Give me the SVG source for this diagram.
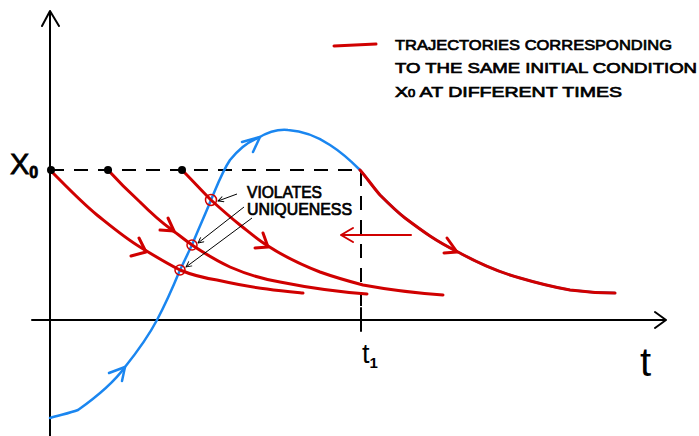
<svg xmlns="http://www.w3.org/2000/svg" width="699" height="436" viewBox="0 0 699 436">
<style>
.axis{stroke:#000;stroke-width:2;fill:none;stroke-linecap:round;stroke-linejoin:round}
.dash{stroke:#000;stroke-width:2;fill:none;stroke-dasharray:14,10}
.red{stroke:#d00000;stroke-width:3;fill:none;stroke-linecap:round;stroke-linejoin:round}
.blue{stroke:#1a86f0;stroke-width:2.5;fill:none;stroke-linecap:round;stroke-linejoin:round}
.ring{stroke:#d00000;stroke-width:1.5;fill:none}
.thin{stroke:#000;stroke-width:1;fill:none}
.hand{font-family:"Liberation Sans",Arial,sans-serif;fill:#000;stroke:#000;stroke-width:0.7}
.math{font-family:"Liberation Sans",Arial,sans-serif;fill:#000}
</style>
<defs>
<marker id="ah" viewBox="0 0 10 10" refX="9" refY="5" markerWidth="7" markerHeight="7" orient="auto-start-reverse" markerUnits="userSpaceOnUse">
<path d="M1,1 L9,5 L1,9" fill="none" stroke="#000" stroke-width="1.3"/>
</marker>
</defs>
<rect width="699" height="436" fill="#fff"/>
<g id="axes">
<path class="axis" d="M50,436 L50,11 M42,26 L50,11 L59,26"/>
<path class="axis" d="M32,320 L666,320 M655,312 L666,320 L655,328"/>
<path class="axis" d="M361,308 L361,331"/>
<path class="dash" d="M50,170 L360,170"/>
<path class="dash" d="M361,172 L361,320"/>
</g>
<g id="labels">
<text class="math" x="10" y="174" font-size="29" stroke="#000" stroke-width="0.8">X<tspan font-size="16" dy="4" font-weight="bold">0</tspan></text>
<text class="math" x="362" y="363" font-size="27">t<tspan font-size="15" dy="5" font-weight="bold">1</tspan></text>
<text class="math" x="640" y="376" font-size="40">t</text>
</g>
<g id="legend">
<path class="red" d="M334,46 L376,44"/>
<text class="hand" x="395" y="50" font-size="15" textLength="277" lengthAdjust="spacingAndGlyphs">TRAJECTORIES CORRESPONDING</text>
<text class="hand" x="395" y="73" font-size="15" textLength="302" lengthAdjust="spacingAndGlyphs">TO THE SAME INITIAL CONDITION</text>
<text class="hand" x="395" y="97" font-size="15" textLength="227" lengthAdjust="spacingAndGlyphs">X<tspan font-size="10">0</tspan> AT DIFFERENT TIMES</text>
</g>
<g id="connectors">
<path id="blue-traj" class="blue" d="M50,418 C60,415 70,413 78,410 C95,398 112,385 125,367 C137,352 148,337 157,320 C166,303 173,287 180,270 C184,262 188,253 192,245 C198,230 205,215 211,200 C217,186 222,172 230,160 C238,150 247,142 258,138 C268,132 278,129 288,130 C303,131 318,137 330,145 C341,152 351,161 360,170 C367,178 373,187 380,195 C388,203 396,211 405,218 C413,224 421,230 430,236 C439,242 448,247 458,252 C478,263 498,272 520,278 C537,283 553,287 570,290 C585,292 600,293 615,293"/>
<path class="blue" d="M109,373 L125,367 L122,381"/>
<path class="blue" d="M242,142 L260,137 L253,152"/>
<path id="traj1" class="red" d="M50,170 C65,185 80,201 97,215 C112,227 125,238 140,247 C153,255 166,263 180,270 C192,275 204,278 217,280 C235,284 250,287 267,289 C280,291 292,292 303,293"/>
<path class="red" d="M139,238 L146,252 L131,256"/>
<path id="traj2" class="red" d="M108,170 C118,181 129,192 140,202 C150,212 161,222 172,230 C179,235 185,240 192,245 C204,253 217,261 230,267 C246,274 262,279 280,282 C310,288 340,292 367,294"/>
<path class="red" d="M168,218 L174,231 L160,230"/>
<path id="traj3" class="red" d="M182,170 C192,180 201,190 211,200 C221,209 230,217 240,225 C249,232 258,240 268,246 C285,257 302,265 320,272 C334,277 348,281 363,285 C390,290 415,293 443,295"/>
<path class="red" d="M263,233 L268,247 L255,248"/>
<path id="traj4" class="red" d="M360,170 C367,178 373,187 380,195 C388,203 396,211 405,218 C413,224 421,230 430,236 C439,242 448,247 458,252 C478,263 498,272 520,278 C537,283 553,287 570,290 C585,292 600,293 615,293"/>
<path class="red" d="M447,238 L457,252 L444,253"/>
<path id="shift-arrow" d="M411,235 L341,235 M353,228 L341,235 L353,242" fill="none" stroke="#d00000" stroke-width="2" stroke-linecap="round" stroke-linejoin="round"/>
<path class="thin" marker-end="url(#ah)" d="M237,194 L218,201"/>
<path class="thin" marker-end="url(#ah)" d="M244,207 L198,243"/>
<path class="thin" marker-end="url(#ah)" d="M252,218 L186,267"/>
</g>
<g id="points">
<circle cx="51" cy="170" r="4" fill="#000"/>
<circle cx="108" cy="170" r="4" fill="#000"/>
<circle cx="182" cy="170" r="4" fill="#000"/>
<circle class="ring" cx="211" cy="200" r="5.5"/>
<circle class="ring" cx="192" cy="245" r="5"/>
<circle class="ring" cx="180" cy="270" r="5"/>
</g>
<g id="violates-label">
<text class="hand" x="247" y="198" font-size="16" textLength="75" lengthAdjust="spacingAndGlyphs">VIOLATES</text>
<text class="hand" x="247" y="215" font-size="16" textLength="105" lengthAdjust="spacingAndGlyphs">UNIQUENESS</text>
</g>
</svg>
